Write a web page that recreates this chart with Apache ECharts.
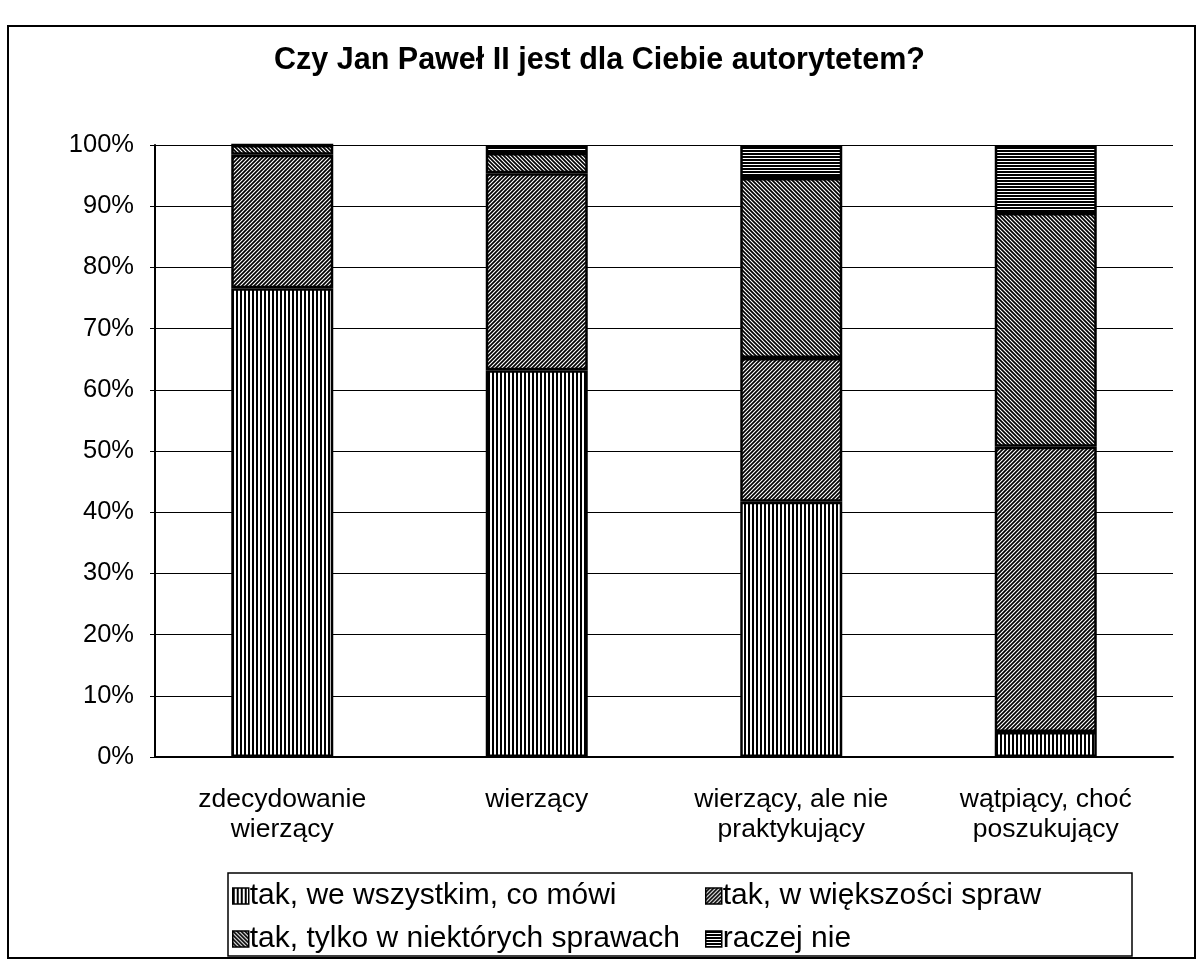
<!DOCTYPE html>
<html>
<head>
<meta charset="utf-8">
<script src="https://cdn.jsdelivr.net/npm/echarts@6/dist/echarts.min.js"></script>
<style>
  html, body { margin: 0; padding: 0; background: #fff; }
  #chart { width: 1199px; height: 966px; }
</style>
</head>
<body>
<div id="chart"></div>
<script>
// dane (w %)
var categories = ['zdecydowanie\nwierzący', 'wierzący', 'wierzący, ale nie\npraktykujący', 'wątpiący, choć\nposzukujący'];
var seriesNames = ['tak, we wszystkim, co mówi', 'tak, w większości spraw', 'tak, tylko w niektórych sprawach', 'raczej nie'];
var weWszystkim = [76.6, 63.2, 41.7, 4.1];
var wWiekszosci = [21.8, 32.2, 23.5, 46.6];
var wNiektorych = [1.6, 3.3, 29.4, 38.2];
var raczejNie = [0, 1.3, 5.4, 11.1];
var yTicks = [0, 100, 10];

// wzory kreskowania
function makePattern(type) {
  var c = document.createElement('canvas');
  var s = type === 'h' ? 3 : 4;
  c.width = s; c.height = s;
  var ctx = c.getContext('2d');
  ctx.fillStyle = '#fff';
  ctx.fillRect(0, 0, s, s);
  ctx.fillStyle = '#000';
  ctx.strokeStyle = '#000';
  if (type === 'v') {
    ctx.fillRect(0, 0, 2, s);
  } else if (type === 'h') {
    ctx.fillRect(0, 0, s, 2);
  } else {
    ctx.lineWidth = 1.7;
    ctx.beginPath();
    if (type === 'fwd') {
      ctx.moveTo(-1, s + 1); ctx.lineTo(s + 1, -1);
      ctx.moveTo(-1, 1); ctx.lineTo(1, -1);
      ctx.moveTo(s - 1, s + 1); ctx.lineTo(s + 1, s - 1);
    } else {
      ctx.moveTo(-1, -1); ctx.lineTo(s + 1, s + 1);
      ctx.moveTo(s - 1, -1); ctx.lineTo(s + 1, 1);
      ctx.moveTo(-1, s - 1); ctx.lineTo(1, s + 1);
    }
    ctx.stroke();
  }
  return { image: c, repeat: 'repeat' };
}

var patterns = [makePattern('v'), makePattern('fwd'), makePattern('back'), makePattern('h')];
var values = [weWszystkim, wWiekszosci, wNiektorych, raczejNie];

var chart = echarts.init(document.getElementById('chart'));
var font = 'Liberation Sans, Arial, sans-serif';

var series = seriesNames.map(function (name, i) {
  return {
    name: name,
    type: 'bar',
    stack: 'total',
    barWidth: 102,
    data: values[i],
    itemStyle: { color: patterns[i], borderColor: '#000', borderWidth: 2.5 },
    emphasis: { disabled: true }
  };
});

var legendText = { fontFamily: font, fontSize: 30, lineHeight: 24, color: '#000', padding: [0, 0, 0, -4] };

chart.setOption({
  backgroundColor: '#fff',
  animation: false,
  title: {
    text: 'Czy Jan Paweł II jest dla Ciebie autorytetem?',
    left: 'center',
    top: 40,
    textStyle: { fontFamily: font, fontSize: 30.5, fontWeight: 'bold', color: '#000' }
  },
  graphic: [
    { type: 'rect', shape: { x: 8, y: 26, width: 1187, height: 932 }, style: { fill: null, stroke: '#000', lineWidth: 2 }, silent: true },
    { type: 'rect', shape: { x: 228, y: 873, width: 904, height: 83 }, style: { fill: null, stroke: '#000', lineWidth: 1.5 }, silent: true }
  ],
  legend: [
    {
      data: [seriesNames[0], seriesNames[2]],
      orient: 'vertical', left: 232, top: 881, padding: 0, itemGap: 13,
      itemWidth: 16, itemHeight: 16, icon: 'rect',
      itemStyle: { borderColor: '#000', borderWidth: 1.5 },
      textStyle: legendText
    },
    {
      data: [seriesNames[1], seriesNames[3]],
      orient: 'vertical', left: 705, top: 881, padding: 0, itemGap: 13,
      itemWidth: 16, itemHeight: 16, icon: 'rect',
      itemStyle: { borderColor: '#000', borderWidth: 1.5 },
      textStyle: legendText
    }
  ],
  grid: { left: 155, right: 26, top: 145, bottom: 209 },
  xAxis: {
    type: 'category',
    data: categories,
    axisLine: { lineStyle: { color: '#000', width: 2 } },
    axisTick: { show: false },
    axisLabel: { fontFamily: font, fontSize: 26.5, lineHeight: 30, color: '#000', margin: 28, interval: 0 }
  },
  yAxis: {
    type: 'value',
    min: yTicks[0], max: yTicks[1], interval: yTicks[2],
    axisLine: { show: true, lineStyle: { color: '#000', width: 2 } },
    axisTick: { show: true, length: 5, lineStyle: { color: '#000' } },
    axisLabel: { formatter: '{value}%', fontFamily: font, fontSize: 25.5, color: '#000', margin: 21 },
    splitLine: { lineStyle: { color: '#000', width: 1.2 } }
  },
  series: series
});
</script>
</body>
</html>
